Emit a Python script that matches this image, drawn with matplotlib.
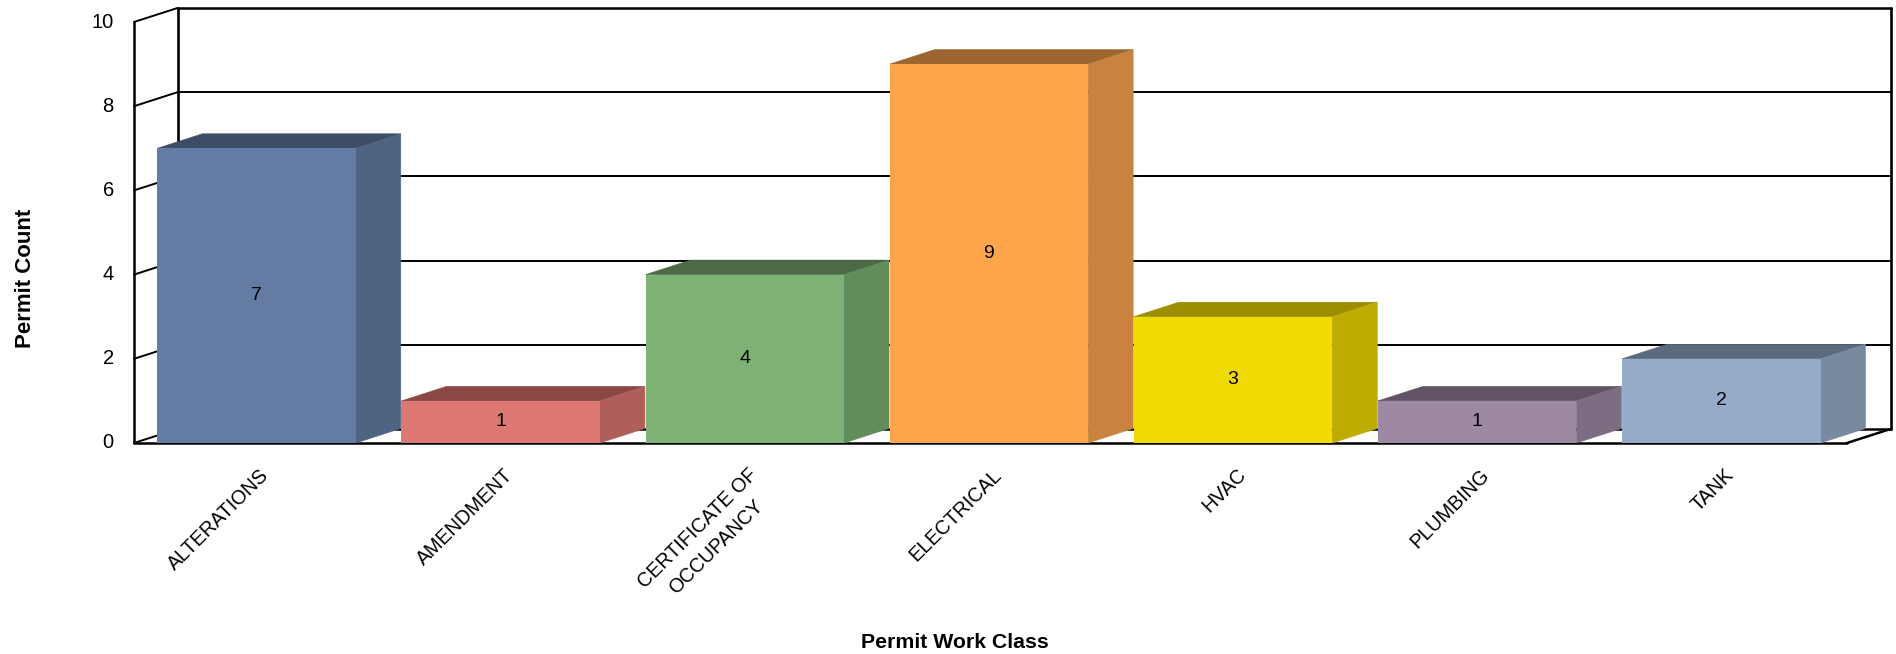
import matplotlib
matplotlib.use('Agg')
import matplotlib.pyplot as plt
from matplotlib.patches import Polygon
from matplotlib.transforms import ScaledTranslation

plt.rcParams['font.family'] = ['Liberation Sans', 'DejaVu Sans']

categories = ['ALTERATIONS', 'AMENDMENT', 'CERTIFICATE OF\nOCCUPANCY', 'ELECTRICAL',
              'HVAC', 'PLUMBING', 'TANK']
counts = [7, 1, 4, 9, 3, 1, 2]
y_ticks = [0, 2, 4, 6, 8, 10]
front_colors = ['#647CA4', '#DE7873', '#7EB274', '#FFA54C', '#F0DA00', '#9D89A4', '#96ABC9']
top_colors = ['#3D4D66', '#8B4744', '#4B6A45', '#9D6630', '#9C8E00', '#625266', '#5C6A7E']
side_colors = ['#4F6483', '#B05E5A', '#618D5B', '#C9833E', '#BEAD00', '#7D6D82', '#788AA0']

W, H = 1896, 654
left, right, bottom, top = 134, 1847, 443, 22
bar_width = 0.813

fig = plt.figure(figsize=(W / 100, H / 100), dpi=100)
ax = fig.add_axes([left / W, 1 - bottom / H, (right - left) / W, (bottom - top) / H])
x0, x1 = -0.502, 6.515
ax.set_xlim(x0, x1)
ax.set_ylim(0, 10)
for s in ax.spines.values():
    s.set_visible(False)

# depth of the fake 3d box, in data units
px_x = (x1 - x0) / (right - left)
px_y = 10 / (bottom - top)
wall_dx, wall_dy = 43.5 * px_x, 14 * px_y
bar_dx, bar_dy = 45 * px_x, 14.5 * px_y

line = dict(color='black', solid_capstyle='round', clip_on=False)
for t in y_ticks:
    lw = 1.8 if t in (0, 10) else 1.4
    ax.plot([x0, x0 + wall_dx], [t, t + wall_dy], lw=1.4, **line)
    ax.plot([x0 + wall_dx, x1 + wall_dx], [t + wall_dy, t + wall_dy], lw=lw, **line)
ax.plot([x0, x0], [0, 10], lw=1.8, **line)
ax.plot([x0 + wall_dx, x0 + wall_dx], [wall_dy, 10 + wall_dy], lw=1.9, **line)
ax.plot([x1 + wall_dx, x1 + wall_dx], [wall_dy, 10 + wall_dy], lw=1.9, **line)
ax.plot([x0, x1], [0, 0], lw=1.8, **line)
ax.plot([x1, x1 + wall_dx], [0, wall_dy], lw=1.8, **line)

xs = list(range(len(categories)))
for x, v, tc, sc in zip(xs, counts, top_colors, side_colors):
    a, b = x - bar_width / 2, x + bar_width / 2
    # side and top go under the front face, with a hairline edge to close the seams
    ax.add_patch(Polygon([(a, v), (b, v), (b + bar_dx, v + bar_dy), (a + bar_dx, v + bar_dy)],
                         facecolor=tc, edgecolor=tc, linewidth=0.4, zorder=3, clip_on=False))
    ax.add_patch(Polygon([(b, 0), (b + bar_dx, bar_dy), (b + bar_dx, v + bar_dy), (b, v)],
                         facecolor=sc, edgecolor=sc, linewidth=0.4, zorder=3, clip_on=False))
    ax.text(x, v / 2, str(v), ha='center', va='center', fontsize=14, color='black', zorder=5)
ax.bar(xs, counts, width=bar_width, color=front_colors, zorder=4, clip_on=False)

ax.set_yticks(y_ticks)
ax.set_yticklabels([str(t) for t in y_ticks], fontsize=14.5)
ax.tick_params(axis='y', length=0, pad=14.5)
up = ScaledTranslation(0, 2 / 100, fig.dpi_scale_trans)
for lab in ax.get_yticklabels():
    lab.set_transform(lab.get_transform() + up)

ax.set_xticks(xs)
ax.set_xticklabels(categories, fontsize=14.2, rotation=45, ha='right', va='top',
                   rotation_mode='anchor', ma='center', linespacing=1.5)
ax.tick_params(axis='x', length=0, pad=16)
shift = ScaledTranslation(3 / 100, 0, fig.dpi_scale_trans)
for lab in ax.get_xticklabels():
    lab.set_transform(lab.get_transform() + shift)

fig.text(955 / W, 1 - 643 / H, 'Permit Work Class', ha='center', va='center',
         fontsize=15.3, fontweight='bold')
fig.text(26 / W, 1 - 278 / H, 'Permit Count', ha='center', va='center', rotation=90,
         fontsize=16, fontweight='bold')

fig.savefig('out.png', dpi=100)
